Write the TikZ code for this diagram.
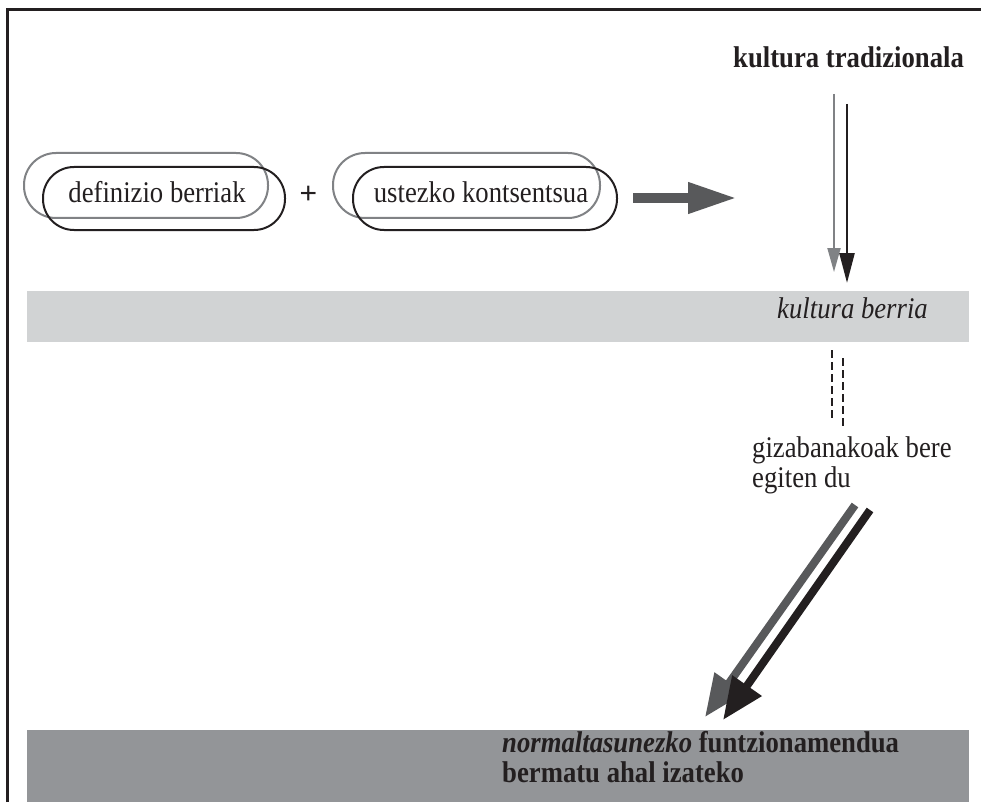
\documentclass[tikz,border=0pt]{standalone}
\usepackage{fontspec}
\setmainfont[FakeStretch=0.89]{Liberation Serif}
\newfontfamily\plusfont{Liberation Sans}
\usetikzlibrary{arrows.meta}
\definecolor{ink}{HTML}{231F20}
\definecolor{midgray}{HTML}{808285}
\definecolor{darkgray}{HTML}{58595B}
\definecolor{bandlight}{HTML}{D1D3D4}
\definecolor{banddark}{HTML}{939598}
\tikzset{
  txt/.style={inner sep=0pt, font=\fontsize{30}{30}\selectfont, text=ink},
  grayoval/.style={draw=midgray, line width=2pt, rounded corners=32pt, minimum height=65pt, inner sep=0pt},
  blackoval/.style={draw=ink, line width=2pt, rounded corners=31pt, minimum height=63pt, inner sep=0pt},
  band/.style={inner sep=0pt, anchor=north west},
  thinarrowgray/.style={draw=midgray, line width=2pt, -{Triangle[length=24pt,width=13pt]}},
  thinarrowblack/.style={draw=ink, line width=2.5pt, -{Triangle[length=30pt,width=15pt]}},
  dashline/.style={draw=ink, line width=2.5pt, dash pattern=on 8pt off 4pt},
  diaggray/.style={draw=darkgray, line width=8pt, -{Triangle[length=42pt,width=34pt]}},
  diagblack/.style={draw=ink, line width=8pt, -{Triangle[length=42pt,width=34pt]}},
}
\begin{document}
\begin{tikzpicture}[x=1pt,y=-1pt]
\useasboundingbox (0,0) rectangle (981,802);
\fill[white] (0,0) rectangle (981,802);
% frame
\draw[ink, line width=3pt] (7.5,802) -- (7.5,10) -- (981,10);
% bands
\node[band, fill=bandlight, minimum width=942pt, minimum height=51pt] (light) at (27,291) {};
\node[band, fill=banddark, minimum width=942pt, minimum height=72pt] (dark) at (27,730) {};
% ovals
\node[grayoval, minimum width=244pt] (go1) at (146,185.5) {};
\node[blackoval, minimum width=242pt] (bo1) at (164,198.5) {};
\node[txt, anchor=base] (def) at (157,203) {definizio berriak};
\node[inner sep=0pt, text=ink, font=\plusfont\fontsize{30}{30}\selectfont] (plus) at (308.5,195) {+};
\node[grayoval, minimum width=267pt] (go2) at (466.5,185.5) {};
\node[blackoval, minimum width=264pt] (bo2) at (485,198.5) {};
\node[txt, anchor=base] (ust) at (481,203) {ustezko kontsentsua};
% thick horizontal arrow
\coordinate (ha) at (633,198);
\coordinate (hb) at (737,198);
\draw[draw=darkgray, line width=10pt, -{Triangle[length=49pt,width=29pt]}] (ha) -- (hb);
% top text
\node[txt, anchor=base west, font=\fontsize{30}{30}\selectfont\bfseries] (trad) at (733,68) {kultura tradizionala};
\coordinate (g1s) at (834,94);
\coordinate (g1e) at (834,272);
\coordinate (k1s) at (847,104);
\coordinate (k1e) at (847,283);
\draw[thinarrowgray] (g1s) -- (g1e);
\draw[thinarrowblack] (k1s) -- (k1e);
\node[txt, anchor=base west, font=\fontsize{30}{30}\selectfont\itshape] (berria) at (777,318) {kultura berria};
% dashed
\coordinate (d1s) at (832,350);
\coordinate (d1e) at (832,418);
\coordinate (d2s) at (843,358);
\coordinate (d2e) at (843,427);
\draw[dashline] (d1s) -- (d1e);
\draw[dashline] (d2s) -- (d2e);
\node[txt, anchor=base west, align=left] (giza) at (752,487) {gizabanakoak bere\\egiten du};
% diagonal arrows
\coordinate (dg1) at (855,505);
\coordinate (dg2) at (705,717);
\coordinate (dk1) at (870,510);
\coordinate (dk2) at (723,720);
\draw[diaggray] (dg1) -- (dg2);
\draw[diagblack] (dk1) -- (dk2);
% bottom text
\node[txt, anchor=base west, align=left, font=\fontsize{30}{30}\selectfont\bfseries] (norm) at (502,782) {\textit{normaltasunezko} funtzionamendua\\bermatu ahal izateko};
\end{tikzpicture}
\end{document}
